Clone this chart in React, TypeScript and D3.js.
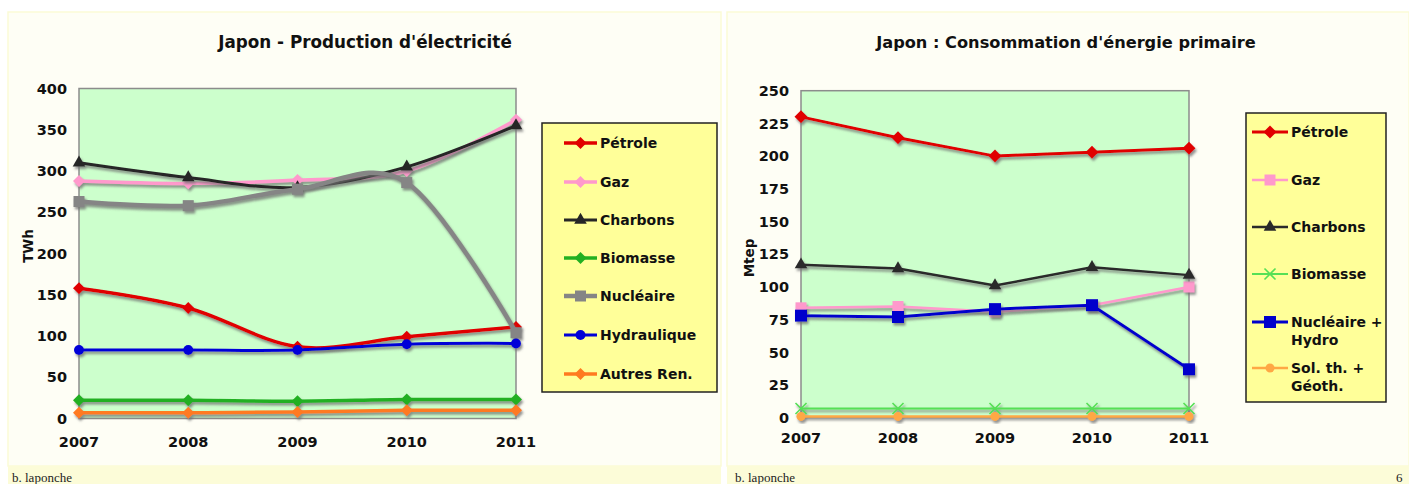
import React, { useEffect, useRef } from 'react';
import * as d3 from 'd3';

// ---- data ----
const years = [2007, 2008, 2009, 2010, 2011];

// Production d'électricité (TWh)
const elecPetrole = [158, 134, 87, 99, 111];
const elecGaz = [288, 285, 289, 300, 362];
const elecCharbons = [310, 292, 280, 305, 355];
const elecBiomasse = [22, 22, 21, 23, 23];
const elecNucleaire = [263, 258, 278, 286, 104];
const elecHydraulique = [83, 83, 83, 90, 91];
const elecAutres = [7, 7, 8, 10, 10];
const elecTicks = [0, 50, 100, 150, 200, 250, 300, 350, 400];

// Consommation d'énergie primaire (Mtep)
const primPetrole = [230, 214, 200, 203, 206];
const primGaz = [84, 85, 81, 86, 100];
const primCharbons = [117, 114, 101, 115, 109];
const primBiomasse = [7, 7, 7, 7, 7];
const primNuclHydro = [78, 77, 83, 86, 37];
const primSolGeo = [1, 1, 1, 1, 1];
const primTicks = [0, 25, 50, 75, 100, 125, 150, 175, 200, 225, 250];

type Marker = 'diamond' | 'square' | 'triangle' | 'circle' | 'x';
interface Series { label: string[]; values: number[]; color: string; marker: Marker; width: number; msize: number; }

const elecSeries: Series[] = [
  { label: ['Pétrole'], values: elecPetrole, color: '#e00000', marker: 'diamond', width: 3.5, msize: 12 },
  { label: ['Gaz'], values: elecGaz, color: '#ff99cc', marker: 'diamond', width: 3.5, msize: 12 },
  { label: ['Charbons'], values: elecCharbons, color: '#262626', marker: 'triangle', width: 3, msize: 12 },
  { label: ['Biomasse'], values: elecBiomasse, color: '#22b022', marker: 'diamond', width: 3.5, msize: 12 },
  { label: ['Nucléaire'], values: elecNucleaire, color: '#858585', marker: 'square', width: 4.5, msize: 11 },
  { label: ['Hydraulique'], values: elecHydraulique, color: '#0000d8', marker: 'circle', width: 3, msize: 10 },
  { label: ['Autres Ren.'], values: elecAutres, color: '#ff7a20', marker: 'diamond', width: 3.5, msize: 12 },
];

const primSeries: Series[] = [
  { label: ['Pétrole'], values: primPetrole, color: '#e00000', marker: 'diamond', width: 3, msize: 13 },
  { label: ['Gaz'], values: primGaz, color: '#ff99cc', marker: 'square', width: 2.5, msize: 11 },
  { label: ['Charbons'], values: primCharbons, color: '#2a2a2a', marker: 'triangle', width: 2.5, msize: 12 },
  { label: ['Biomasse'], values: primBiomasse, color: '#55e055', marker: 'x', width: 2, msize: 9 },
  { label: ['Nucléaire +', 'Hydro'], values: primNuclHydro, color: '#0000cc', marker: 'square', width: 3, msize: 12 },
  { label: ['Sol. th. +', 'Géoth.'], values: primSolGeo, color: '#ffa844', marker: 'circle', width: 2.5, msize: 9 },
];

const FONT = '"DejaVu Sans", Verdana, sans-serif';

function drawMarker(g: d3.Selection<SVGGElement, unknown, null, undefined>, type: Marker, x: number, y: number, s: number, color: string) {
  let path: string;
  let rot = 0;
  if (type === 'diamond') { path = d3.symbol(d3.symbolSquare, (s * s) / 2)()!; rot = 45; }
  else if (type === 'square') path = d3.symbol(d3.symbolSquare, s * s)()!;
  else if (type === 'triangle') path = d3.symbol(d3.symbolTriangle, (Math.sqrt(3) / 4) * s * s * 1.1)()!;
  else if (type === 'circle') path = d3.symbol(d3.symbolCircle, (Math.PI * s * s) / 4)()!;
  else path = d3.symbol(d3.symbolX, s * s)()!;
  const p = g.append('path')
    .attr('d', path)
    .attr('transform', `translate(${x},${y}) rotate(${rot})`);
  if (type === 'x') p.attr('fill', 'none').attr('stroke', color).attr('stroke-width', 1.6);
  else p.attr('fill', color);
}

interface ChartCfg {
  title: string; titleX: number; titleSize: number; unit: string; unitX: number; unitY: number;
  x0: number; x1: number; y0: number; y1: number; yMax: number; ticks: number[];
  xLabelY: number; series: Series[]; smooth: boolean;
  legend: { x: number; y: number; w: number; h: number; rows: number[]; lineX0: number; lineX1: number; textX: number; };
}

const App: React.FC = () => {
  const svgRef = useRef<SVGSVGElement>(null);

  useEffect(() => {
    if (!svgRef.current) return;
    const svg = d3.select(svgRef.current);
    svg.selectAll('*').remove();

    const defs = svg.append('defs');
    defs.append('filter').attr('id', 'sh').attr('x', '-10%').attr('y', '-10%').attr('width', '120%').attr('height', '140%')
      .append('feDropShadow').attr('dx', 1.5).attr('dy', 2.5).attr('stdDeviation', 0.8)
      .attr('flood-color', '#6e6e6e').attr('flood-opacity', 0.75);

    svg.append('rect').attr('width', 1409).attr('height', 484).attr('fill', '#ffffff');

    // slide panels + footer bands
    [[8, 713], [727, 682]].forEach(([x, w]) => {
      svg.append('rect').attr('x', x).attr('y', 12).attr('width', w).attr('height', 454)
        .attr('fill', '#fefef5').attr('stroke', '#fbfbd6').attr('stroke-width', 1.5);
      svg.append('rect').attr('x', x).attr('y', 466).attr('width', w).attr('height', 18).attr('fill', '#fcfcd8');
    });
    [[12, 'b. laponche'], [735, 'b. laponche'], [1396, '6']].forEach(([x, t]) => {
      svg.append('text').attr('x', x as number).attr('y', 482)
        .style('font-family', '"Liberation Serif", "DejaVu Serif", serif').style('font-size', '13px')
        .attr('fill', '#222').text(t as string);
    });

    const charts: ChartCfg[] = [
      {
        title: "Japon - Production d'électricité", titleX: 365, titleSize: 16.8, unit: 'TWh', unitX: 28, unitY: 246,
        x0: 79, x1: 516, y0: 88.5, y1: 418.5, yMax: 400, ticks: elecTicks, xLabelY: 447,
        series: elecSeries, smooth: true,
        legend: { x: 542, y: 123, w: 175, h: 269, rows: [143, 182, 220, 258, 296, 335, 374], lineX0: 564, lineX1: 597, textX: 600 },
      },
      {
        title: "Japon : Consommation d'énergie primaire", titleX: 1066, titleSize: 16.2, unit: 'Mtep', unitX: 749, unitY: 258,
        x0: 801, x1: 1189, y0: 90.7, y1: 417.7, yMax: 250, ticks: primTicks, xLabelY: 443,
        series: primSeries, smooth: false,
        legend: { x: 1246, y: 113, w: 140, h: 289, rows: [132, 180, 227, 274, 322, 368], lineX0: 1252, lineX1: 1288, textX: 1291 },
      },
    ];

    charts.forEach(c => {
      const g = svg.append('g');
      const x = d3.scalePoint<number>().domain(years).range([c.x0, c.x1]);
      const y = d3.scaleLinear().domain([0, c.yMax]).range([c.y1, c.y0]);

      g.append('text').attr('x', c.titleX).attr('y', 48).attr('text-anchor', 'middle')
        .style('font-family', FONT).style('font-weight', 'bold').style('font-size', `${c.titleSize}px`)
        .attr('fill', '#111').text(c.title);

      g.append('rect').attr('x', c.x0).attr('y', c.y0).attr('width', c.x1 - c.x0).attr('height', c.y1 - c.y0)
        .attr('fill', '#ccffcc').attr('stroke', '#8c8c8c').attr('stroke-width', 1.5);

      // y axis labels
      g.selectAll('text.yt').data(c.ticks).join('text').attr('class', 'yt')
        .attr('x', c.x0 - 12).attr('y', d => y(d)).attr('dy', '0.36em').attr('text-anchor', 'end')
        .style('font-family', FONT).style('font-weight', 'bold').style('font-size', '14.5px')
        .attr('fill', '#111').text(d => d);

      // x axis labels
      g.selectAll('text.xt').data(years).join('text').attr('class', 'xt')
        .attr('x', d => x(d)!).attr('y', c.xLabelY).attr('text-anchor', 'middle')
        .style('font-family', FONT).style('font-weight', 'bold').style('font-size', '14.5px')
        .attr('fill', '#111').text(d => d);

      g.append('text').attr('transform', `translate(${c.unitX},${c.unitY}) rotate(-90)`)
        .attr('text-anchor', 'middle').attr('dy', '0.36em')
        .style('font-family', FONT).style('font-weight', 'bold').style('font-size', '13.5px')
        .attr('fill', '#111').text(c.unit);

      const line = d3.line<number>()
        .x((_, i) => x(years[i])!)
        .y(d => y(d))
        .curve(c.smooth ? d3.curveCardinal.tension(0) : d3.curveLinear);

      c.series.forEach(s => {
        const sg = g.append('g').attr('filter', 'url(#sh)');
        sg.append('path').attr('d', line(s.values)).attr('fill', 'none')
          .attr('stroke', s.color).attr('stroke-width', s.width).attr('stroke-linejoin', 'round');
        s.values.forEach((v, i) => drawMarker(sg, s.marker, x(years[i])!, y(v), s.msize, s.color));
      });

      // legend
      const L = c.legend;
      const lg = g.append('g');
      lg.append('rect').attr('x', L.x).attr('y', L.y).attr('width', L.w).attr('height', L.h)
        .attr('fill', '#ffff99').attr('stroke', '#222').attr('stroke-width', 1.5);
      c.series.forEach((s, i) => {
        const ry = L.rows[i];
        lg.append('line').attr('x1', L.lineX0).attr('x2', L.lineX1).attr('y1', ry).attr('y2', ry)
          .attr('stroke', s.color).attr('stroke-width', s.width);
        drawMarker(lg, s.marker, (L.lineX0 + L.lineX1) / 2, ry, s.msize, s.color);
        s.label.forEach((t, j) => {
          lg.append('text').attr('x', L.textX).attr('y', ry + j * 18).attr('dy', '0.36em')
            .style('font-family', FONT).style('font-weight', 'bold').style('font-size', '14px')
            .attr('fill', '#111').text(t);
        });
      });
    });
  }, []);

  return (
    <svg ref={svgRef} width={1409} height={484}
      style={{ position: 'absolute', left: 0, top: 0, display: 'block' }} />
  );
};

export default App;
